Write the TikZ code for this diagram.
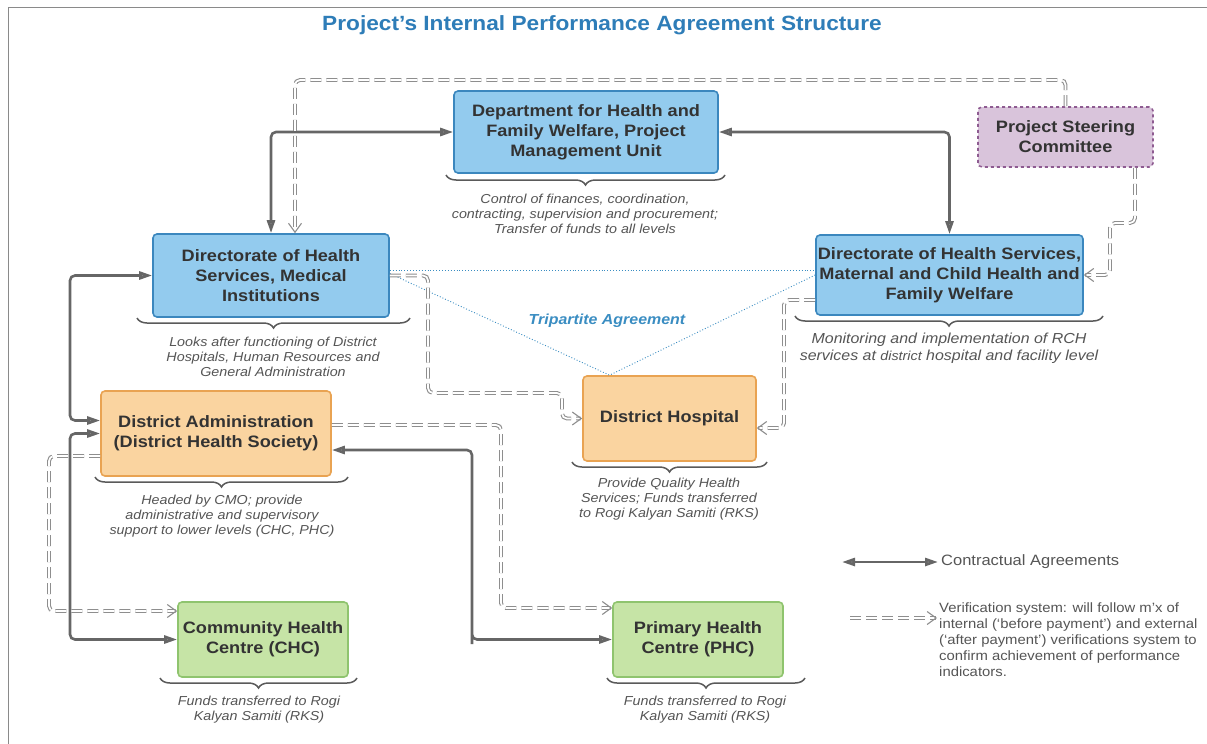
\documentclass[tikz,border=0pt]{standalone}
\usepackage{fontspec}
\setmainfont[FakeStretch=1.1]{Liberation Sans}
\usetikzlibrary{arrows.meta,decorations.pathreplacing,calc}

\definecolor{bluefill}{HTML}{93CBEE}
\definecolor{blueedge}{HTML}{3B87BE}
\definecolor{orangefill}{HTML}{FAD4A0}
\definecolor{orangeedge}{HTML}{E9A352}
\definecolor{greenfill}{HTML}{C6E4A6}
\definecolor{greenedge}{HTML}{8FC46E}
\definecolor{purplefill}{HTML}{D9C4DB}
\definecolor{purpleedge}{HTML}{8E5B91}
\definecolor{boxtext}{HTML}{333333}
\definecolor{notetext}{HTML}{555555}
\definecolor{titleblue}{HTML}{2E7DB8}
\definecolor{tripblue}{HTML}{3A8DC2}
\definecolor{conline}{HTML}{666666}
\definecolor{tipfill}{HTML}{8C8C8C}
\definecolor{verline}{HTML}{8E8E8E}
\definecolor{framecol}{HTML}{8A8A8A}
\definecolor{bracecol}{HTML}{5A5A5A}

\begin{document}
\begin{tikzpicture}[x=1pt,y=-1pt,
  box/.style={draw, line width=1.6pt, rounded corners=4pt, align=center,
    font=\fontsize{16.5}{20}\selectfont\bfseries, text=boxtext, inner sep=0pt},
  bluebox/.style={box, fill=bluefill, draw=blueedge},
  orangebox/.style={box, fill=orangefill, draw=orangeedge},
  greenbox/.style={box, fill=greenfill, draw=greenedge},
  purplebox/.style={box, fill=purplefill, draw=purpleedge, dashed},
  note/.style={font=\fontsize{13}{15}\selectfont\itshape, text=notetext,
    align=center, anchor=north, inner sep=0pt},
  brc/.style={draw=bracecol, line width=1.5pt, decorate,
    decoration={brace, mirror, amplitude=10pt}},
  contract/.style={draw=conline, line width=2.6pt, rounded corners=5pt,
    {Triangle[length=13pt,width=8pt,fill=tipfill]}-{Triangle[length=13pt,width=8pt,fill=tipfill]}},
  verif/.style={draw=verline, line width=1.1pt, double=white, double distance=1.7pt,
    dash pattern=on 11pt off 5pt, rounded corners=5pt,
    -{Straight Barb[length=9pt,width=13pt]}},
  tri/.style={draw=tripblue, line width=0.9pt, dotted},
]
\useasboundingbox[fill=white] (0,0) rectangle (1207,744);

% frame
\draw[framecol, line width=1pt] (8,744) -- (8,7) -- (1207,7);

% title
\node[font=\fontsize{20.6}{24}\selectfont\bfseries, text=titleblue] (title) at (602,25)
  {Project's Internal Performance Agreement Structure};

% organisation boxes
\node[bluebox, minimum width=264pt, minimum height=82pt] (pmu) at (586,132)
  {Department for Health and\\Family Welfare, Project\\Management Unit};
\node[purplebox, minimum width=175pt, minimum height=60pt] (psc) at (1065.5,137)
  {Project Steering\\Committee};
\node[bluebox, minimum width=236pt, minimum height=83pt] (dhsmi) at (271,275.5)
  {Directorate of Health\\Services, Medical\\Institutions};
\node[bluebox, minimum width=267pt, minimum height=80pt] (dhsmch) at (949.5,275)
  {Directorate of Health Services,\\Maternal and Child Health and\\Family Welfare};
\node[orangebox, minimum width=230pt, minimum height=85pt] (da) at (216,433.5)
  {District Administration\\(District Health Society)};
\node[orangebox, minimum width=173pt, minimum height=85pt] (dh) at (669.5,418.5)
  {District Hospital};
\node[greenbox, minimum width=170pt, minimum height=75pt] (chc) at (263,639.5)
  {Community Health\\Centre (CHC)};
\node[greenbox, minimum width=170pt, minimum height=75pt] (phc) at (698,639.5)
  {Primary Health\\Centre (PHC)};

% braces and descriptions
\draw[brc] (446,175) -- (725,175);
\node[note] (pmunote) at (585,194)
  {Control of finances, coordination,\\contracting, supervision and procurement;\\Transfer of funds to all levels};
\draw[brc] (137,318) -- (410,318);
\node[note] (dhsminote) at (273,337)
  {Looks after functioning of District\\Hospitals, Human Resources and\\General Administration};
\draw[brc] (795,316) -- (1103,316);
\node[note, font=\fontsize{14.5}{17}\selectfont\itshape] (dhsmchnote) at (949,333)
  {Monitoring and implementation of RCH\\services at {\fontsize{13}{17}\selectfont district} hospital and facility level};
\draw[brc] (95,477) -- (348,477);
\node[note] (danote) at (222,495)
  {Headed by CMO; provide\\administrative and supervisory\\support to lower levels (CHC, PHC)};
\draw[brc] (572,462) -- (767,462);
\node[note] (dhnote) at (669,478)
  {Provide Quality Health\\Services; Funds transferred\\to Rogi Kalyan Samiti (RKS)};
\draw[brc] (160,678) -- (357,678);
\node[note] (chcnote) at (259,696)
  {Funds transferred to Rogi\\Kalyan Samiti (RKS)};
\draw[brc] (607,678) -- (805,678);
\node[note] (phcnote) at (705,696)
  {Funds transferred to Rogi\\Kalyan Samiti (RKS)};

% tripartite agreement
\draw[tri] ([yshift=5.5pt]dhsmi.east) -- ([yshift=5pt]dhsmch.west);
\draw[tri] ([yshift=2pt]dhsmi.east) -- ([xshift=-60pt]dh.north);
\draw[tri] ([yshift=0pt]dhsmch.west) -- ([xshift=-60pt]dh.north);
\node[font=\fontsize{14.5}{16}\selectfont\bfseries\itshape, text=tripblue] (trilabel) at (607,321)
  {Tripartite Agreement};

% bend points
\coordinate (vtop) at (295,80);
\coordinate (k1) at (1135,223);
\coordinate (k2) at (1110,223);
\coordinate (lx) at (70,0);
\coordinate (v3) at (49,611);
\coordinate (v4) at (501,608);
\coordinate (c4) at (472,639);
\coordinate (v5) at (428,393);
\coordinate (v6) at (562,393);
\coordinate (v7) at (784,428);

% contractual agreements
\draw[contract] (dhsmi.north) |- (pmu.west);
\draw[contract] (dhsmch.north) |- (pmu.east);
\draw[contract] (dhsmi.west) -- (dhsmi.west -| lx) |- ([yshift=13pt]da.west);
\draw[contract] (da.west) -- (da.west -| lx) |- (chc.west);
\draw[contract] ([yshift=-16.5pt]da.east) -| (c4) |- (phc.west);

% verification system
\draw[verif] (psc.north) |- (vtop) -- (vtop |- dhsmi.north);
\draw[verif] (k1 |- psc.south) -- (k1) -- (k2) |- (dhsmch.east);
\draw[verif] ([yshift=-22.5pt]da.west) -| (v3) -- ([yshift=28.5pt]chc.west);
\draw[verif] ([yshift=8.5pt]da.east) -| (v4) -- ([yshift=31.5pt]phc.west);
\draw[verif] (dhsmi.east) -| (v5) -- (v6) |- (dh.west);
\draw[verif] ([yshift=-25pt]dhsmch.west) -| (v7) -- ([yshift=-9.5pt]dh.east);

% legend
\coordinate (lc1) at (842,562);
\coordinate (lc2) at (938,562);
\draw[contract] (lc1) -- (lc2);
\node[anchor=west, inner sep=0pt, font=\fontsize{15}{17}\selectfont, text=notetext] (lctext) at (941,562)
  {Contractual Agreements};
\coordinate (lv1) at (850,618);
\coordinate (lv2) at (937,618);
\draw[verif] (lv1) -- (lv2);
\node[anchor=north west, inner sep=0pt, align=left, font=\fontsize{13.5}{15.8}\selectfont, text=notetext] (lvtext) at (939,603)
  {Verification system: will follow m'x of\\internal (`before payment') and external\\(`after payment') verifications system to\\confirm achievement of performance\\indicators.};
\end{tikzpicture}
\end{document}
